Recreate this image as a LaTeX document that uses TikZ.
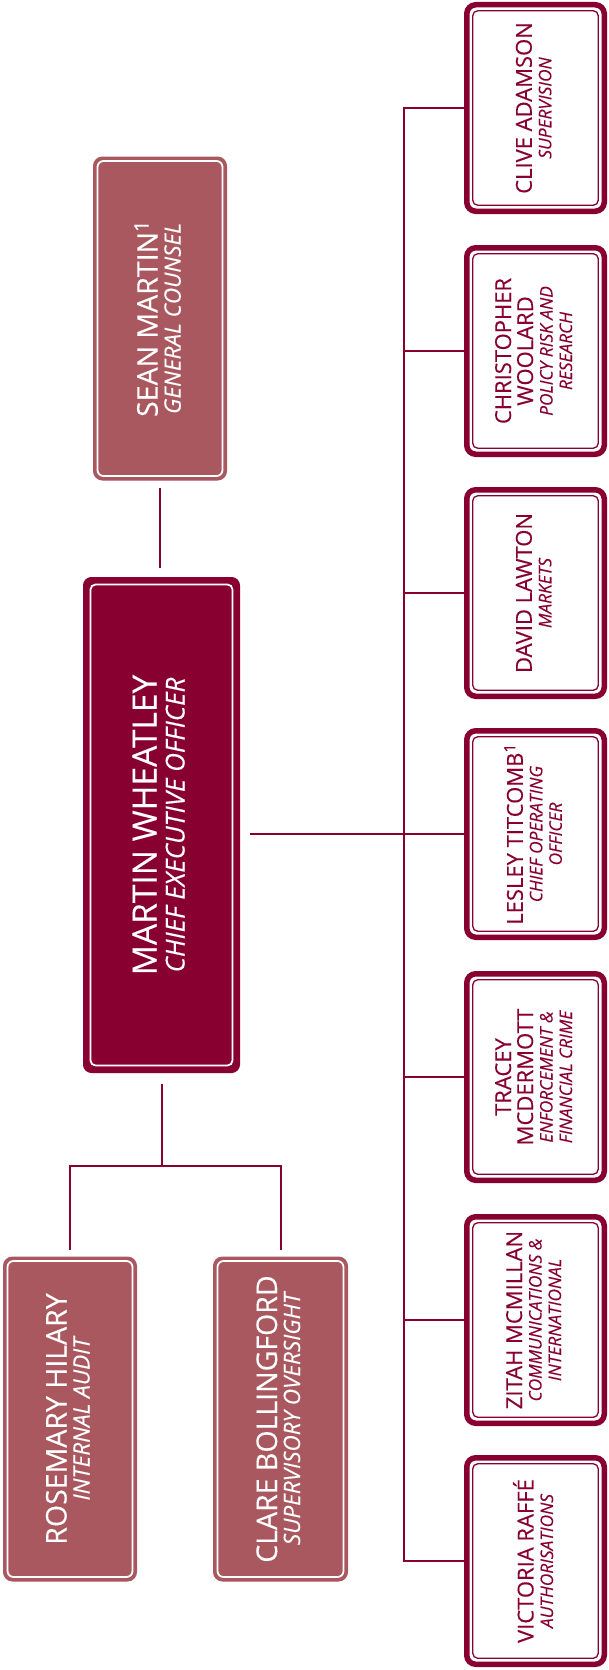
\documentclass[tikz,border=0pt]{standalone}
\usepackage{fontspec}
\setmainfont{Open Sans}[UprightFeatures={FakeBold=0.25},ItalicFeatures={FakeBold=0.25}]
\usepackage{graphicx}
\definecolor{fcamaroon}{RGB}{135,0,48}
\definecolor{fcapink}{RGB}{170,88,96}
\renewcommand\arraystretch{0}
\newcommand\rn{\fontsize{22}{22}\selectfont\rule[-5pt]{0pt}{22pt}}
\newcommand\rs{\fontsize{17.3}{19}\selectfont\itshape\rule[-5pt]{0pt}{19.5pt}}
\newcommand\cn{\fontsize{33.5}{34}\selectfont\rule[-6pt]{0pt}{30pt}}
\newcommand\cs{\fontsize{26}{26}\selectfont\itshape\rule[-6pt]{0pt}{28pt}}
\newcommand\pn{\fontsize{28.5}{30}\selectfont\rule[-5pt]{0pt}{26pt}}
\newcommand\ps{\fontsize{22.5}{24}\selectfont\itshape\rule[-5pt]{0pt}{23pt}}
\newcommand\rot[1]{\rotatebox{90}{\begin{tabular}{@{}c@{}}#1\end{tabular}}}
\tikzset{
  rbox/.style={draw=fcamaroon, line width=5.5pt, fill=white, rounded corners=9pt,
    inner sep=0pt, minimum width=137.5pt, minimum height=206.5pt, text=fcamaroon,
    path picture={\draw[fcamaroon, line width=1.3pt, rounded corners=5pt]
      ([shift={(6pt,6pt)}]path picture bounding box.south west) rectangle
      ([shift={(-6pt,-6pt)}]path picture bounding box.north east);}},
  ceobox/.style={draw=fcamaroon, line width=1pt, fill=fcamaroon, rounded corners=8pt,
    inner sep=0pt, minimum width=156pt, minimum height=495pt, text=white,
    path picture={\draw[white, line width=1.8pt, rounded corners=5pt]
      ([shift={(7pt,7pt)}]path picture bounding box.south west) rectangle
      ([shift={(-7pt,-7pt)}]path picture bounding box.north east);}},
  pbox/.style={draw=fcapink, line width=1pt, fill=fcapink, rounded corners=9pt,
    inner sep=0pt, minimum width=133pt, minimum height=323pt, text=white,
    path picture={\draw[white, line width=1.8pt, rounded corners=6pt]
      ([shift={(4pt,4pt)}]path picture bounding box.south west) rectangle
      ([shift={(-4pt,-4pt)}]path picture bounding box.north east);}},
  conn/.style={draw=fcamaroon, line width=2pt}
}
\begin{document}
\begin{tikzpicture}[x=1pt,y=-1pt]
\useasboundingbox (0,0) rectangle (608,1670);
% left side
\node[pbox] (sean) at (160,318.5) {\rot{\pn SEAN MARTIN\textsuperscript{1}\\[3pt]\ps GENERAL COUNSEL}};
\node[ceobox] (ceo) at (161.5,825) {\rot{\cn MARTIN WHEATLEY\\[4pt]\cs CHIEF EXECUTIVE OFFICER}};
\node[pbox, minimum height=324pt] (rosemary) at (70,1419) {\rot{\pn ROSEMARY HILARY\\[3pt]\ps INTERNAL AUDIT}};
\node[pbox, minimum height=324pt, minimum width=134pt] (clare) at (280.5,1419) {\rot{\pn CLARE BOLLINGFORD\\[3pt]\ps SUPERVISORY OVERSIGHT}};
% right column
\node[rbox] (clive) at (535.5,108) {\rot{\rn CLIVE ADAMSON\\[4pt]\rs SUPERVISION}};
\node[rbox] (christopher) at (535.5,351) {\rot{\rn CHRISTOPHER\\\rn WOOLARD\\[4pt]\rs POLICY RISK AND\\\rs RESEARCH}};
\node[rbox] (david) at (535.5,593) {\rot{\rn DAVID LAWTON\\[4pt]\rs MARKETS}};
\node[rbox] (lesley) at (535.5,834) {\rot{\rn LESLEY TITCOMB\textsuperscript{1}\\[4pt]\rs CHIEF OPERATING\\\rs OFFICER}};
\node[rbox] (tracey) at (535.5,1077) {\rot{\rn TRACEY\\\rn MCDERMOTT\\[4pt]\rs ENFORCEMENT \&\\\rs FINANCIAL CRIME}};
\node[rbox] (zitah) at (535.5,1320) {\rot{\rn ZITAH MCMILLAN\\[4pt]\rs COMMUNICATIONS \&\\\rs INTERNATIONAL}};
\node[rbox] (victoria) at (535.5,1561) {\rot{\rn VICTORIA RAFFÉ\\[4pt]\rs AUTHORISATIONS}};
% connectors
\coordinate (bus) at (404,0);
\coordinate (fork) at (161.5,1166);
\draw[conn, shorten <=7pt, shorten >=9pt] (sean.south) -- (sean.south |- ceo.north);
\draw[conn, shorten <=11pt] (ceo.south) -- (fork);
\draw[conn, shorten <=7pt, shorten >=7pt] (rosemary.north) |- (fork) -| (clare.north);
\draw[conn, shorten <=10pt] (ceo.east |- lesley.west) -- (lesley.west);
\draw[conn] (clive.west) -| (bus |- victoria.west) -- (victoria.west);
\draw[conn] (bus |- christopher.west) -- (christopher.west);
\draw[conn] (bus |- david.west) -- (david.west);
\draw[conn] (bus |- tracey.west) -- (tracey.west);
\draw[conn] (bus |- zitah.west) -- (zitah.west);
\end{tikzpicture}
\end{document}
